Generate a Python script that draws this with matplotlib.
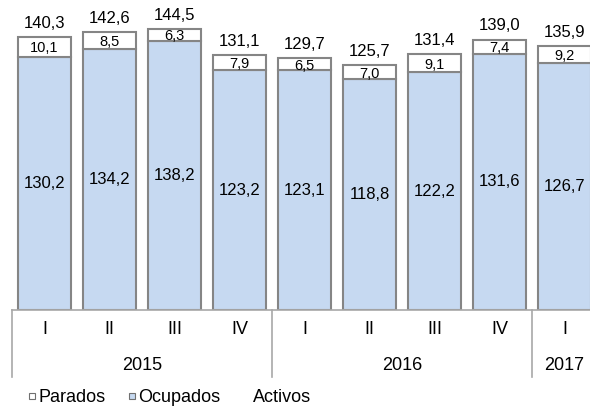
import matplotlib
matplotlib.use("Agg")
import matplotlib.pyplot as plt
from matplotlib.lines import Line2D

plt.rcParams["font.family"] = ["Liberation Sans", "DejaVu Sans"]

quarters = ["I", "II", "III", "IV", "I", "II", "III", "IV", "I"]
years = ["2015", "2016", "2017"]
year_counts = [4, 4, 1]
ocupados = [130.2, 134.2, 138.2, 123.2, 123.1, 118.8, 122.2, 131.6, 126.7]
parados = [10.1, 8.5, 6.3, 7.9, 6.5, 7.0, 9.1, 7.4, 9.2]
activos = [140.3, 142.6, 144.5, 131.1, 129.7, 125.7, 131.4, 139.0, 135.9]

BLUE = "#c6d9f1"
EDGE = "#858585"
AXIS = "#a8a8a8"


def fmt(v):
    return f"{v:.1f}".replace(".", ",")


fig = plt.figure(figsize=(5.9, 4.07), dpi=100)
ax = fig.add_axes([12 / 590, 1 - 310 / 407, 578 / 590, 310 / 407])

x = list(range(len(quarters)))
w = 0.83
ax.bar(x, ocupados, width=w, color=BLUE, edgecolor=EDGE, linewidth=1.5)
ax.bar(x, parados, width=w, bottom=ocupados, color="white", edgecolor=EDGE, linewidth=1.5)

for i in x:
    ax.text(i, ocupados[i] / 2, fmt(ocupados[i]), ha="center", va="center", fontsize=12)
    ax.text(i, ocupados[i] + parados[i] / 2, fmt(parados[i]), ha="center",
            va="center_baseline", fontsize=10.5)
    ax.annotate(fmt(activos[i]), (i, activos[i]), xytext=(0, 6.5), textcoords="offset points",
                ha="center", va="baseline", fontsize=12)

ax.set_xlim(-0.5, -0.5 + 578 / 65)
ax.set_ylim(0, 310 / 1.946)
ax.set_yticks([])
ax.set_xticks([])
for s in ["top", "right", "left"]:
    ax.spines[s].set_visible(False)
ax.spines["bottom"].set_color(AXIS)
ax.spines["bottom"].set_linewidth(1.2)

tr = ax.get_xaxis_transform()
for i, q in enumerate(quarters):
    ax.text(i, -20 / 310, q, transform=tr, ha="center", va="center", fontsize=13)

start = 0
bounds = [-0.5]
for yr, n in zip(years, year_counts):
    mid = start + (n - 1) / 2
    ax.text(mid, -56 / 310, yr, transform=tr, ha="center", va="center", fontsize=13)
    start += n
    bounds.append(start - 0.5)
for b in bounds[:-1]:
    ax.add_line(Line2D([b, b], [0, -67 / 310], transform=tr, color=AXIS, lw=1.2, clip_on=False))

handles = [
    Line2D([], [], marker="s", ls="none", ms=5, mfc="white", mec="#707070", mew=0.8),
    Line2D([], [], marker="s", ls="none", ms=5, mfc=BLUE, mec="#707070", mew=0.8),
    Line2D([], [], ls="none"),
]
fig.legend(handles, ["Parados", "Ocupados", "Activos"], loc="center left",
           bbox_to_anchor=(27.5 / 590, 1 - 398 / 407), ncol=3, frameon=False, fontsize=13,
           borderpad=0, borderaxespad=0, handlelength=0.5, handletextpad=0.1,
           columnspacing=1.2)

fig.savefig("out.png", dpi=100)
